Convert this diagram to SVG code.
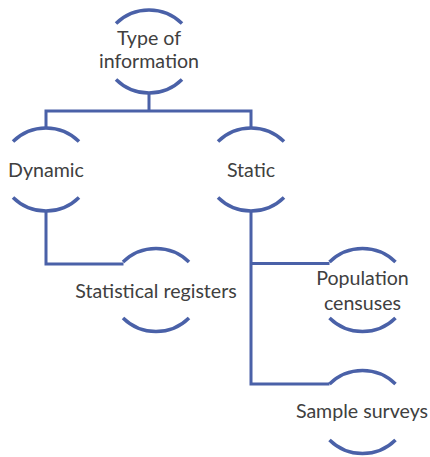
<svg xmlns="http://www.w3.org/2000/svg" width="430" height="457" viewBox="0 0 430 457">
<style>
.arc{fill:none;stroke:#4A61A8;stroke-width:3.5;stroke-linecap:butt}
.con{fill:none;stroke:#4A61A8;stroke-width:3}
text{font-family:Lato,"Open Sans","Liberation Sans",sans-serif;font-size:19.6px;fill:#404040;text-anchor:middle}
</style>
<rect width="430" height="457" fill="#fff"/>
<g id="connectors">
<path class="con" d="M149,93 V111 M46,127.5 V111 H251 V127.5"/>
<path class="con" d="M46,211 V264 H123.5"/>
<path class="con" d="M251,211 V384 H329.5 M251,263.5 H329.5"/>
</g>
<g id="n-type">
<path class="arc" d="M116,23.5 A47,47 0 0 1 182,23.5 M116,79.5 A47,47 0 0 0 182,79.5"/>
<text x="149" y="45">Type of</text>
<text x="149" y="68">information</text>
</g>
<g id="n-dynamic">
<path class="arc" d="M13,141.5 A47,47 0 0 1 79,141.5 M13,197.5 A47,47 0 0 0 79,197.5"/>
<text x="46" y="177">Dynamic</text>
</g>
<g id="n-static">
<path class="arc" d="M218,141.5 A47,47 0 0 1 284,141.5 M218,197.5 A47,47 0 0 0 284,197.5"/>
<text x="251" y="177">Static</text>
</g>
<g id="n-registers">
<path class="arc" d="M123,262 A47,47 0 0 1 189,262 M123,318 A47,47 0 0 0 189,318"/>
<text x="156" y="298">Statistical registers</text>
</g>
<g id="n-censuses">
<path class="arc" d="M329.5,262 A47,47 0 0 1 395.5,262 M329.5,318 A47,47 0 0 0 395.5,318"/>
<text x="362.5" y="285">Population</text>
<text x="362.5" y="310">censuses</text>
</g>
<g id="n-surveys">
<path class="arc" d="M329.5,384 A47,47 0 0 1 395.5,384 M329.5,440 A47,47 0 0 0 395.5,440"/>
<text x="362" y="418">Sample surveys</text>
</g>
</svg>
